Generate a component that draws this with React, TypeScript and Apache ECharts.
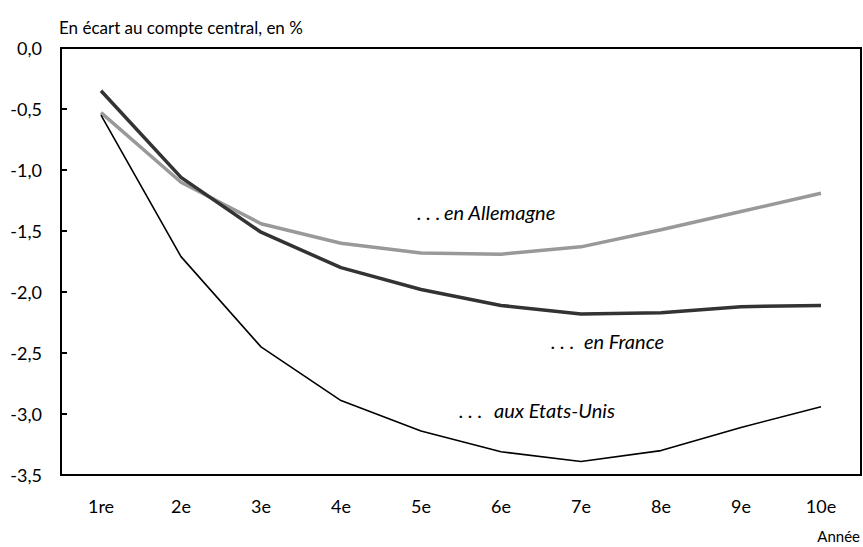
import React, { useEffect, useRef } from "react";
import * as echarts from "echarts";

const categories = ["1re", "2e", "3e", "4e", "5e", "6e", "7e", "8e", "9e", "10e"];
const france = [-0.35, -1.06, -1.51, -1.8, -1.98, -2.11, -2.18, -2.17, -2.12, -2.11];
const allemagne = [-0.53, -1.1, -1.44, -1.6, -1.68, -1.69, -1.63, -1.49, -1.34, -1.19];
const etatsUnis = [-0.55, -1.71, -2.45, -2.89, -3.14, -3.31, -3.39, -3.3, -3.11, -2.94];

const FONT = "Lato";

const italic = (text: string, x: number, y: number) => ({
  type: "text",
  x,
  y,
  style: {
    text,
    fontSize: 20,
    fontStyle: "italic",
    fontFamily: FONT,
    fill: "#000",
    align: "left",
    verticalAlign: "middle",
  },
});

export default function App() {
  const ref = useRef<HTMLDivElement>(null);
  useEffect(() => {
    const chart = echarts.init(ref.current!, undefined, { renderer: "svg" });
    chart.setOption({
      animation: false,
      backgroundColor: "#ffffff",
      textStyle: { fontFamily: FONT },
      grid: {
        left: 61,
        top: 48,
        right: 2,
        bottom: 72,
        show: true,
        borderColor: "#000",
        borderWidth: 2,
        backgroundColor: "transparent",
      },
      xAxis: {
        type: "category",
        data: categories,
        boundaryGap: true,
        axisLine: { lineStyle: { color: "#000", width: 2 } },
        axisTick: { inside: true, length: 6, interval: 0, lineStyle: { color: "#000", width: 2 } },
        axisLabel: { color: "#000", fontSize: 18, fontFamily: FONT, margin: 22, interval: 0 },
        splitLine: { show: false },
      },
      yAxis: {
        type: "value",
        min: -3.5,
        max: 0,
        interval: 0.5,
        axisLine: { show: true, lineStyle: { color: "#000", width: 2 } },
        axisTick: { show: true, inside: true, length: 6, lineStyle: { color: "#000", width: 2 } },
        axisLabel: {
          color: "#000",
          fontSize: 18,
          fontFamily: FONT,
          margin: 19,
          formatter: (v: number) => v.toFixed(1).replace(".", ","),
        },
        splitLine: { show: false },
      },
      series: [
        {
          name: "Allemagne",
          type: "line",
          data: allemagne,
          symbol: "none",
          lineStyle: { color: "#999999", width: 3.5 },
        },
        {
          name: "France",
          type: "line",
          data: france,
          symbol: "none",
          lineStyle: { color: "#333333", width: 3.5 },
        },
        {
          name: "Etats-Unis",
          type: "line",
          data: etatsUnis,
          symbol: "none",
          lineStyle: { color: "#000000", width: 1.6 },
        },
      ],
      graphic: [
        {
          type: "text",
          x: 59,
          y: 27,
          style: {
            text: "En écart au compte central, en %",
            fontSize: 17,
            fontFamily: FONT,
            fill: "#000",
            align: "left",
            verticalAlign: "middle",
          },
        },
        {
          type: "text",
          x: 860,
          y: 536,
          style: {
            text: "Année",
            fontSize: 15,
            fontFamily: FONT,
            fill: "#000",
            align: "right",
            verticalAlign: "middle",
          },
        },
        italic(". . .", 417, 212),
        italic("en Allemagne", 444, 212),
        italic(". . .", 551, 341),
        italic("en France", 584, 341),
        italic(". . .", 459, 410),
        italic("aux Etats-Unis", 494, 410),
      ],
    });
    return () => chart.dispose();
  }, []);
  return (
    <div
      ref={ref}
      style={{ position: "absolute", left: 0, top: 0, width: 863, height: 547 }}
    />
  );
}
